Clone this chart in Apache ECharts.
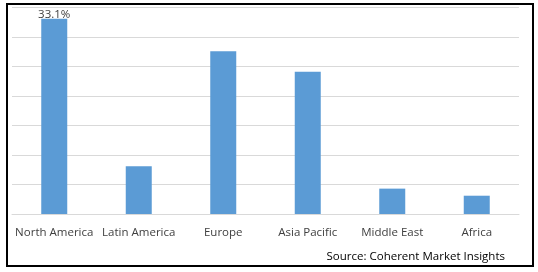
<!DOCTYPE html>
<html>
<head>
<meta charset="utf-8">
<script src="https://cdn.jsdelivr.net/npm/echarts@6/dist/echarts.min.js"></script>
<style>html,body{margin:0;padding:0;background:#fff}#c{width:538px;height:272px}</style>
</head>
<body>
<div id="c"></div>
<script>
const categories = ['North America', 'Latin America', 'Europe', 'Asia Pacific', 'Middle East', 'Africa'];
const shares = [33.1, 8.1, 27.6, 24.1, 4.3, 3.1];
const labelledIndex = 0;
const sourceText = 'Source: Coherent Market Insights';

const chart = echarts.init(document.getElementById('c'), null, {renderer: 'canvas'});
const FONT = '"Open Sans", "DejaVu Sans", sans-serif';
chart.setOption({
  animation: false,
  backgroundColor: '#fff',
  grid: {left: 12, right: 19, top: 7.5, bottom: 58, containLabel: false},
  xAxis: {
    type: 'category',
    data: categories,
    axisLine: {show: true, lineStyle: {color: '#d9d9d9', width: 1}},
    axisTick: {show: false},
    axisLabel: {color: '#404040', fontFamily: FONT, fontSize: 11.5, margin: 13, interval: 0}
  },
  yAxis: {
    type: 'value',
    min: 0, max: 35, interval: 5,
    axisLine: {show: false},
    axisTick: {show: false},
    axisLabel: {show: false},
    splitLine: {show: true, lineStyle: {color: '#d9d9d9', width: 1}}
  },
  series: [{
    type: 'bar',
    barWidth: 26,
    itemStyle: {color: '#5b9bd5'},
    data: shares.map((v, i) => i === labelledIndex ? {
      value: v,
      label: {show: true, position: 'top', distance: -2, formatter: v + '%', color: '#404040', fontFamily: FONT, fontSize: 11.5}
    } : v)
  }],
  graphic: [
    {type: 'rect', shape: {x: 7, y: 4, width: 526, height: 262}, style: {fill: 'none', stroke: '#000', lineWidth: 2}, z: 100},
    {type: 'text', x: 505, y: 257, style: {text: sourceText, fill: '#000', font: '11.5px ' + FONT, textAlign: 'right', textVerticalAlign: 'middle'}}
  ]
});
</script>
</body>
</html>
